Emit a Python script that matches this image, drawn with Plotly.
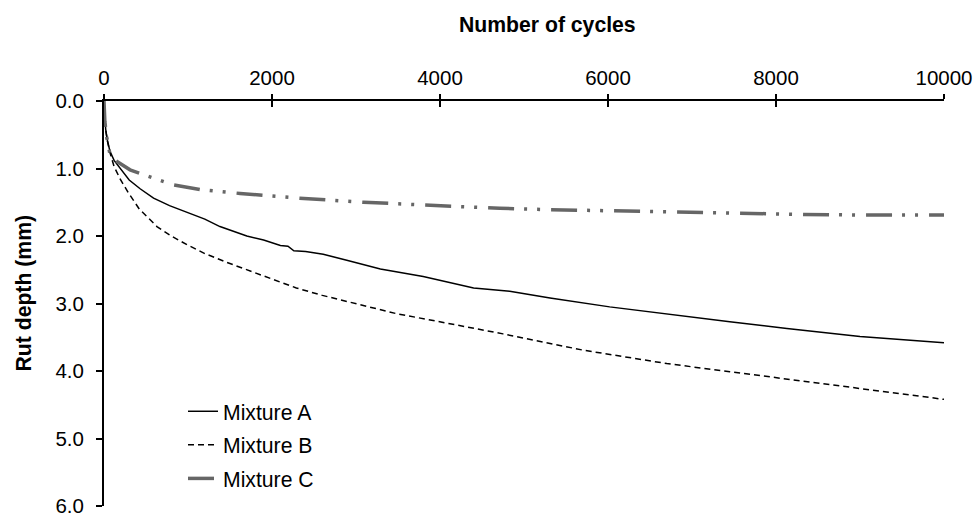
import plotly.graph_objects as go

# ---- data ----
cycles_a = [0, 10, 20, 40, 70, 120, 190, 300, 430, 590, 780, 980, 1200, 1380, 1550, 1700,
            1900, 2100, 2190, 2260, 2400, 2610, 2890, 3290, 3800, 4000, 4400, 4830, 5310,
            6020, 6780, 7450, 8130, 9000, 10000]
depth_a = [0, 0.30, 0.42, 0.58, 0.74, 0.88, 0.99, 1.17, 1.30, 1.44, 1.55, 1.64, 1.75, 1.86,
           1.93, 2.00, 2.06, 2.14, 2.15, 2.22, 2.23, 2.27, 2.36, 2.49, 2.60, 2.66, 2.77, 2.82,
           2.92, 3.05, 3.17, 3.27, 3.37, 3.49, 3.58]

cycles_b = [0, 10, 20, 40, 70, 120, 190, 290, 420, 630, 800, 990, 1200, 1460, 1700, 1940,
            2100, 2290, 2600, 2890, 3480, 4080, 4750, 5700, 6700, 7450, 8520, 9480, 10000]
depth_b = [0, 0.30, 0.43, 0.59, 0.76, 0.97, 1.15, 1.36, 1.60, 1.86, 2.00, 2.13, 2.26, 2.39,
           2.50, 2.60, 2.68, 2.77, 2.88, 2.97, 3.15, 3.29, 3.45, 3.69, 3.89, 4.01, 4.18, 4.33, 4.42]

cycles_c = [0, 10, 30, 70, 120, 190, 310, 470, 650, 820, 1140, 1620, 2330, 3090, 3800, 4710,
            5310, 6060, 6820, 7410, 8330, 9040, 10000]
depth_c = [0, 0.30, 0.52, 0.78, 0.87, 0.93, 1.02, 1.09, 1.17, 1.24, 1.31, 1.37, 1.44, 1.50,
           1.54, 1.59, 1.61, 1.63, 1.65, 1.66, 1.68, 1.69, 1.69]

series_names = ["Mixture A", "Mixture B", "Mixture C"]
x_ticks = [0, 2000, 4000, 6000, 8000, 10000]
x_tick_labels = ["0", "2000", "4000", "6000", "8000", "10000"]
y_ticks = [0, 1, 2, 3, 4, 5, 6]
y_tick_labels = ["0.0", "1.0", "2.0", "3.0", "4.0", "5.0", "6.0"]

FONT = "Arial, 'Liberation Sans', sans-serif"
FS = 20.5
FS_T = 21.2

fig = go.Figure()
fig.add_trace(go.Scatter(x=cycles_a, y=depth_a, mode="lines", name=series_names[0],
                         legendgroup="a",
                         line=dict(color="black", width=1.5)))
fig.add_trace(go.Scatter(x=cycles_b, y=depth_b, mode="lines", name=series_names[1],
                         legendgroup="b",
                         line=dict(color="black", width=1.5, dash="6px,4px")))
fig.add_trace(go.Scatter(x=cycles_c, y=depth_c, mode="lines", name=series_names[2],
                         legendgroup="c",
                         line=dict(color="#666666", width=3.5,
                                   dash="26px,10px,3px,10px,3px,11px")))
# helper trace so the overlaid axis (inner half of crossing ticks) is drawn
fig.add_trace(go.Scatter(x=[x_ticks[0], x_ticks[-1]], y=[None, None], xaxis="x2",
                         mode="lines", showlegend=False, hoverinfo="skip"))

fig.update_layout(
    width=975, height=518,
    margin=dict(l=104, r=31, t=101, b=12, autoexpand=False),
    paper_bgcolor="white", plot_bgcolor="white",
    font=dict(family=FONT, size=FS, color="black"),
    showlegend=True,
    legend=dict(x=(183 - 104) / 840, xanchor="left",
                y=1 - (391 - 101) / 405, yanchor="top",
                bgcolor="rgba(0,0,0,0)", borderwidth=0,
                tracegroupgap=3,
                font=dict(family=FONT, size=FS_T, color="black")),
    xaxis=dict(range=[x_ticks[0], x_ticks[-1]], side="top", tickvals=x_ticks,
               ticktext=x_tick_labels, automargin=False,
               showline=True, linecolor="black", linewidth=2,
               ticks="outside", ticklen=5, tickwidth=1.5, tickcolor="black",
               showgrid=False, zeroline=False, ticklabelstandoff=1,
               tickfont=dict(family=FONT, size=FS)),
    xaxis2=dict(range=[x_ticks[0], x_ticks[-1]], side="top", overlaying="x",
                tickvals=x_ticks, showticklabels=False, automargin=False,
                showline=False, ticks="inside", ticklen=6, tickwidth=1.5,
                tickcolor="black", showgrid=False, zeroline=False),
    yaxis=dict(range=[y_ticks[-1], y_ticks[0]], tickvals=y_ticks, ticktext=y_tick_labels,
               automargin=False,
               showline=True, linecolor="black", linewidth=2,
               ticks="outside", ticklen=6, tickwidth=1.5, tickcolor="black",
               showgrid=False, zeroline=False, ticklabelstandoff=8,
               tickfont=dict(family=FONT, size=FS)),
    annotations=[
        dict(text="<b>Number of cycles</b>", xref="paper", yref="paper",
             x=(547.5 - 104) / 840, y=1 + (101 - 25) / 405,
             xanchor="center", yanchor="middle", showarrow=False,
             font=dict(family=FONT, size=FS_T, color="black")),
        dict(text="<b>Rut depth (mm)</b>", xref="paper", yref="paper",
             x=(23 - 104) / 840, y=1 - (293.5 - 101) / 405, textangle=-90,
             xanchor="center", yanchor="middle", showarrow=False,
             font=dict(family=FONT, size=FS_T, color="black")),
    ],
)

fig.write_html("out.html")
